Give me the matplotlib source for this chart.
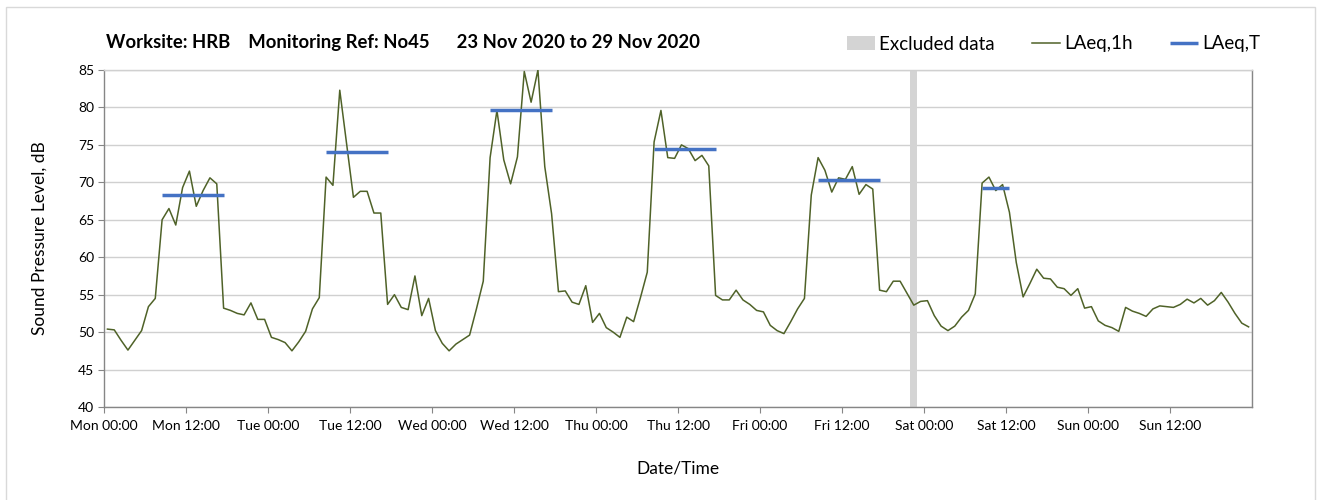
import numpy as np
import matplotlib.pyplot as plt
from matplotlib.patches import Rectangle

plt.rcParams['font.family'] = ['Lato', 'DejaVu Sans']

# hourly LAeq,1h values, Mon 00:00 .. Sun 23:00
laeq_1h = [
    # Mon
    50.4, 50.3, 48.9, 47.6, 48.9, 50.2, 53.4, 54.5, 65.0, 66.5, 64.3, 69.3,
    71.5, 66.8, 68.9, 70.6, 69.8, 53.2, 52.9, 52.5, 52.3, 53.9, 51.7, 51.7,
    # Tue
    49.3, 49.0, 48.6, 47.5, 48.7, 50.1, 53.1, 54.6, 70.7, 69.6, 82.3, 75.2,
    68.0, 68.8, 68.8, 65.9, 65.9, 53.7, 55.0, 53.3, 53.0, 57.5, 52.2, 54.5,
    # Wed
    50.2, 48.5, 47.5, 48.4, 49.0, 49.6, 53.1, 56.8, 73.3, 79.6, 73.0, 69.8,
    73.4, 84.8, 80.7, 85.0, 72.1, 65.8, 55.4, 55.5, 54.0, 53.7, 56.2, 51.3,
    # Thu
    52.5, 50.6, 50.0, 49.3, 52.0, 51.4, 54.6, 58.0, 75.4, 79.6, 73.3, 73.2,
    75.0, 74.5, 72.9, 73.6, 72.2, 54.9, 54.3, 54.3, 55.6, 54.3, 53.7, 52.9,
    # Fri
    52.7, 50.9, 50.2, 49.8, 51.4, 53.1, 54.5, 68.3, 73.3, 71.6, 68.7, 70.6,
    70.4, 72.1, 68.4, 69.7, 69.1, 55.6, 55.4, 56.8, 56.8, 55.2, 53.6, 54.1,
    # Sat
    54.2, 52.2, 50.8, 50.2, 50.8, 52.0, 52.9, 55.1, 69.9, 70.7, 68.9, 69.7,
    66.0, 59.3, 54.7, 56.5, 58.4, 57.2, 57.1, 56.0, 55.8, 54.9, 55.8, 53.2,
    # Sun
    53.4, 51.5, 50.9, 50.6, 50.1, 53.3, 52.8, 52.5, 52.1, 53.1, 53.5, 53.4,
    53.3, 53.7, 54.4, 53.9, 54.5, 53.6, 54.2, 55.3, 54.0, 52.5, 51.2, 50.7,
]

# daytime LAeq,T: first hour index, last hour index, level
laeq_t_start = [8, 32, 56, 80, 104, 128]
laeq_t_end = [17, 41, 65, 89, 113, 132]
laeq_t_value = [68.3, 74.0, 79.6, 74.5, 70.3, 69.3]

excluded_start = 118
excluded_end = 119

days = ['Mon', 'Tue', 'Wed', 'Thu', 'Fri', 'Sat', 'Sun']
tick_labels = []
for d in days:
    tick_labels.append(d + ' 00:00')
    tick_labels.append(d + ' 12:00')

fig = plt.figure(figsize=(13.2, 5), dpi=100)
ax = fig.add_axes([0.0788, 0.186, 0.8697, 0.674])

hours = np.arange(len(laeq_1h)) + 0.5

ax.axvspan(excluded_start, excluded_end, color='#d4d4d4', lw=0, zorder=1,
           label='Excluded data')
ax.plot(hours, laeq_1h, color='#4f6228', lw=1.1, zorder=3, label='LAeq,1h')
for k in range(len(laeq_t_value)):
    xs = [laeq_t_start[k] + 0.5, laeq_t_end[k] + 0.5]
    ax.plot(xs, [laeq_t_value[k]] * 2, color='#4472c4', lw=2.5, zorder=4,
            solid_capstyle='butt', label='LAeq,T' if k == 0 else None)

ax.set_xlim(0, 168)
ax.set_ylim(40, 85)
ax.set_xticks(np.arange(0, 168, 12))
ax.set_xticklabels(tick_labels, fontsize=10)
ax.set_xticks(np.arange(0, 169, 24), minor=True)
ax.set_yticks(np.arange(40, 86, 5))
ax.tick_params(axis='y', labelsize=10, length=4, color='#868686', pad=3)
ax.tick_params(axis='x', which='major', length=4, color='#868686', pad=5)
ax.tick_params(axis='x', which='minor', length=0)
ax.grid(axis='y', color='#d0d0d0', lw=1)
ax.grid(axis='x', which='minor', color='#e3e3e3', lw=1)
ax.set_axisbelow(True)
for s in ax.spines.values():
    s.set_color('#868686')
    s.set_linewidth(1)
ax.spines['top'].set_color('#d0d0d0')

ax.set_ylabel('Sound Pressure Level, dB', fontsize=12.5, labelpad=22)
ax.set_xlabel('Date/Time', fontsize=12.5, labelpad=21)

fig.text(0.0788 + 0.0015, 0.915, 'Worksite: HRB    Monitoring Ref: No45      23 Nov 2020 to 29 Nov 2020',
         fontsize=13.3, fontweight='bold', va='center')

handles, labels = ax.get_legend_handles_labels()
fig.legend(handles, labels, loc='center right', bbox_to_anchor=(0.9675, 0.912),
           ncol=3, frameon=False, fontsize=13.5, handlelength=1.5,
           columnspacing=2.0, handletextpad=0.2)

fig.patches.append(Rectangle((0.0045, -0.01), 0.992, 0.996, transform=fig.transFigure,
                             fill=False, edgecolor='#d9d9d9', lw=1))

fig.savefig('out.png', dpi=100)
